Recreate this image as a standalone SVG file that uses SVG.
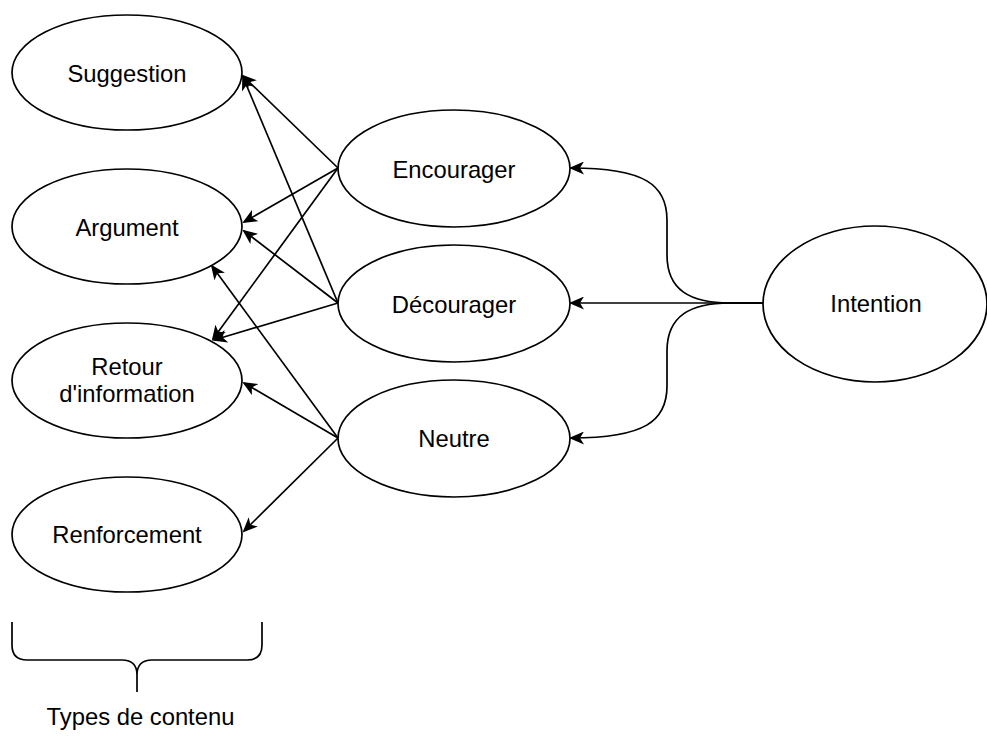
<svg xmlns="http://www.w3.org/2000/svg" width="987" height="736" viewBox="0 0 987 736">
<style>
.n ellipse{fill:#fff;stroke:#000;stroke-width:1.7}
text{font-family:"Liberation Sans",Arial,sans-serif;font-size:23.8px;fill:#000;text-anchor:middle}
.e path,.e line{fill:none;stroke:#000;stroke-width:1.7;marker-end:url(#a)}
.b{fill:none;stroke:#000;stroke-width:1.7}
</style>
<defs>
<marker id="a" viewBox="0 0 15 13" refX="13" refY="6.5" markerWidth="15" markerHeight="13" orient="auto" markerUnits="userSpaceOnUse">
<path d="M0,0 L15,6.5 L0,13 L4,6.5 Z" fill="#000" stroke="none"/>
</marker>
</defs>
<g class="e" id="connectors">
<line x1="338" y1="168" x2="243" y2="76"/>
<line x1="338" y1="168" x2="244" y2="222"/>
<line x1="338" y1="168" x2="213" y2="339"/>
<line x1="338" y1="303" x2="243" y2="77"/>
<line x1="338" y1="303" x2="244" y2="231"/>
<line x1="338" y1="303" x2="214" y2="340"/>
<line x1="338" y1="438" x2="212" y2="266"/>
<line x1="338" y1="438" x2="244" y2="383"/>
<line x1="338" y1="438" x2="244" y2="531"/>
<path d="M763,303 L730,303 C690,303 667,290 667,255 L667,220 C667,185 645,168 571,168"/>
<line x1="763" y1="303" x2="571" y2="303"/>
<path d="M763,303 L730,303 C690,303 667,316 667,351 L667,386 C667,421 645,438 571,438"/>
</g>
<g class="n" id="suggestion"><ellipse cx="127" cy="72.5" rx="115" ry="57.5"/><text x="127" y="81.5">Suggestion</text></g>
<g class="n" id="argument"><ellipse cx="127" cy="226.5" rx="115" ry="57.5"/><text x="127" y="235.5">Argument</text></g>
<g class="n" id="retour"><ellipse cx="127" cy="380.5" rx="115" ry="57.5"/><text x="127" y="375">Retour</text><text x="127" y="402">d'information</text></g>
<g class="n" id="renforcement"><ellipse cx="127" cy="534.5" rx="115" ry="57.5"/><text x="127" y="543">Renforcement</text></g>
<g class="n" id="encourager"><ellipse cx="454" cy="168.5" rx="116" ry="58.5"/><text x="454" y="178">Encourager</text></g>
<g class="n" id="decourager"><ellipse cx="454" cy="303.5" rx="116" ry="58.5"/><text x="454" y="313">Décourager</text></g>
<g class="n" id="neutre"><ellipse cx="454" cy="438.5" rx="116" ry="58.5"/><text x="454" y="447">Neutre</text></g>
<g class="n" id="intention"><ellipse cx="875" cy="304" rx="112" ry="78"/><text x="876" y="312">Intention</text></g>
<g id="types-de-contenu">
<path class="b" d="M12,622 L12,645 Q12,660 27,660 L122,660 Q137,660 137,675 L137,692 M262,622 L262,645 Q262,660 247,660 L152,660 Q137,660 137,675"/>
<text x="140.5" y="725">Types de contenu</text>
</g>
</svg>
